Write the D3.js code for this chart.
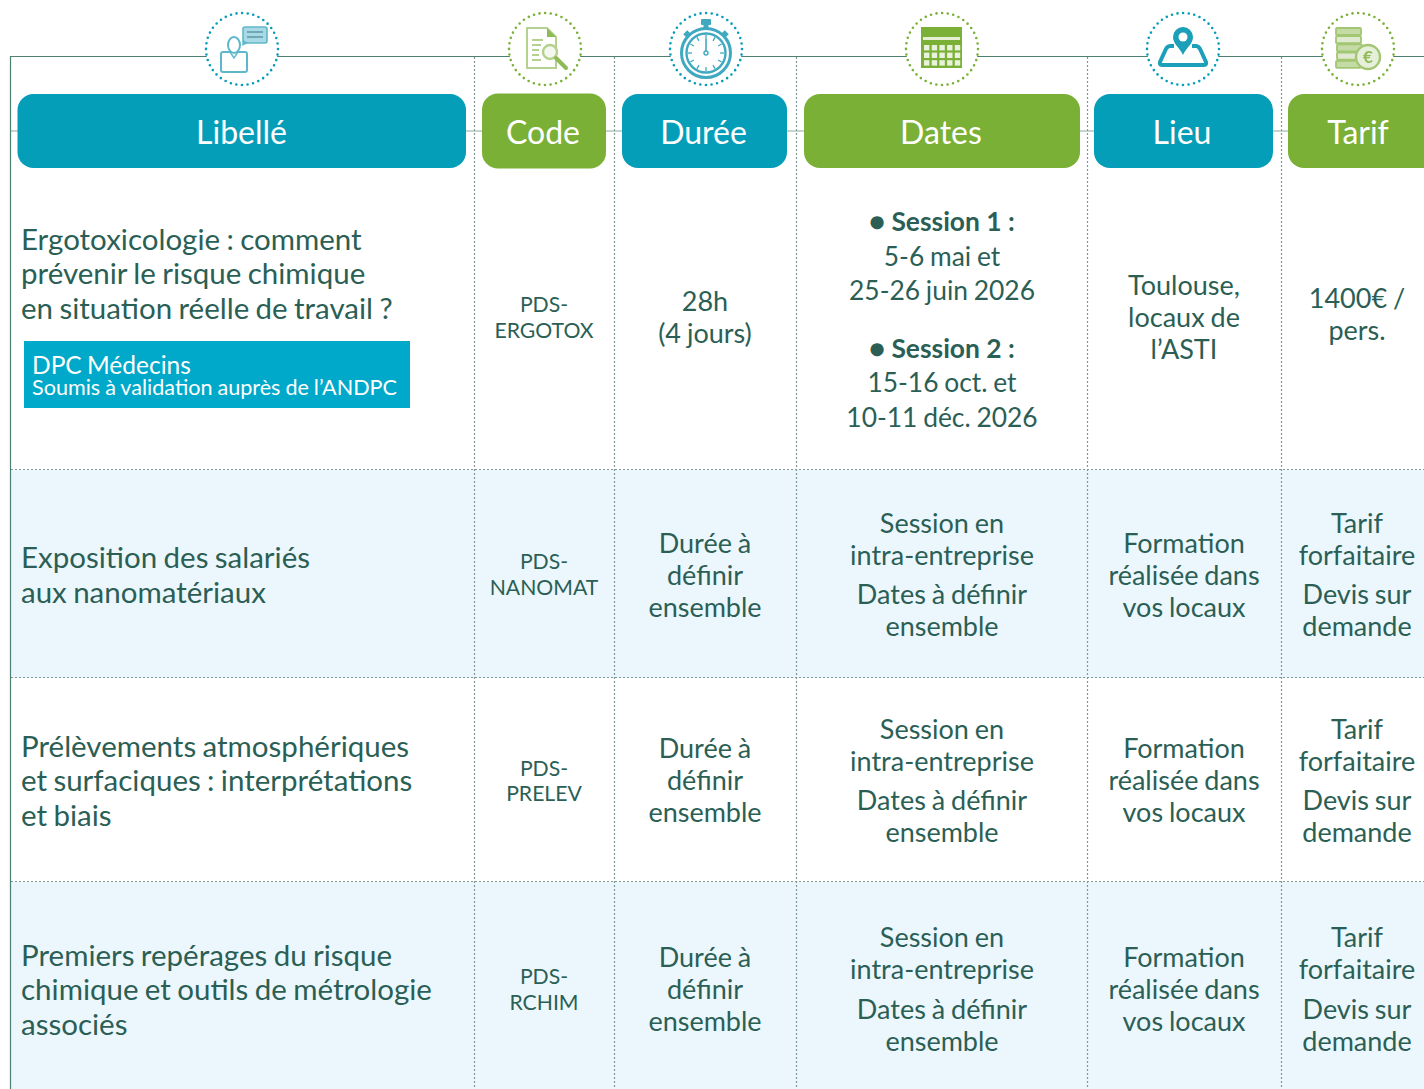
<!DOCTYPE html>
<html lang="fr">
<head>
<meta charset="utf-8">
<title>Formations</title>
<script src="https://cdn.jsdelivr.net/npm/d3@7"></script>
<style>
  html, body { margin: 0; padding: 0; background: #fff; overflow: hidden; }
  svg { display: block; font-family: Lato, sans-serif; font-kerning: normal; }
</style>
</head>
<body>
<div id="chart"></div>
<script>
// table content
const columns = ['Libellé', 'Code', 'Durée', 'Dates', 'Lieu', 'Tarif']
const rowIds = ['ergotox', 'nanomat', 'prelev', 'rchim']

const libelles = [
  ['Ergotoxicologie : comment', 'prévenir le risque chimique', 'en situation réelle de travail ?'],
  ['Exposition des salariés', 'aux nanomatériaux'],
  ['Prélèvements atmosphériques', 'et surfaciques : interprétations', 'et biais'],
  ['Premiers repérages du risque', 'chimique et outils de métrologie', 'associés'],
]
const codes = [
  ['PDS-', 'ERGOTOX'],
  ['PDS-', 'NANOMAT'],
  ['PDS-', 'PRELEV'],
  ['PDS-', 'RCHIM'],
]
const durees = [
  ['28h', '(4 jours)'],
  ['Durée à', 'définir', 'ensemble'],
  ['Durée à', 'définir', 'ensemble'],
  ['Durée à', 'définir', 'ensemble'],
]
const dates = [
  ['*● Session 1 :', '5-6 mai et', '25-26 juin 2026', '', '*● Session 2 :', '15-16 oct. et', '10-11 déc. 2026'],
  ['Session en', 'intra-entreprise', '', 'Dates à définir', 'ensemble'],
  ['Session en', 'intra-entreprise', '', 'Dates à définir', 'ensemble'],
  ['Session en', 'intra-entreprise', '', 'Dates à définir', 'ensemble'],
]
const lieux = [
  ['Toulouse,', 'locaux de', 'l’ASTI'],
  ['Formation', 'réalisée dans', 'vos locaux'],
  ['Formation', 'réalisée dans', 'vos locaux'],
  ['Formation', 'réalisée dans', 'vos locaux'],
]
const tarifs = [
  ['1400€ /', 'pers.'],
  ['Tarif', 'forfaitaire', '', 'Devis sur', 'demande'],
  ['Tarif', 'forfaitaire', '', 'Devis sur', 'demande'],
  ['Tarif', 'forfaitaire', '', 'Devis sur', 'demande'],
]
const badgeLines = ['DPC Médecins', 'Soumis à validation auprès de l’ANDPC']

const width = 1424
const height = 1089
const teal = '#059eb9'
const green = '#7ab035'
const ink = '#2b5f55'

const svg = d3.select('#chart').append('svg').attr('width', width).attr('height', height)

svg.append('defs').append('filter')
  .attr('id', 'soft')
  .attr('x', '-20%').attr('y', '-20%').attr('width', '140%').attr('height', '140%')
  .append('feGaussianBlur')
  .attr('stdDeviation', 0.5)

// layout
const colEdges = [10.5, 474.5, 614.5, 796.5, 1087.5, 1281.5, 1424]
const rowEdges = [57, 470, 678, 882, 1089]
const rowTop = d3.scaleOrdinal().domain(rowIds).range(rowEdges)
const rowBottom = d3.scaleOrdinal().domain(rowIds).range(rowEdges.slice(1))

const headers = d3.scaleOrdinal().domain(columns).range([
  { x0: 17.5, x1: 466, y0: 94, y1: 168, tx: 241.5, icon: 242 },
  { x0: 482, x1: 606, y0: 93.5, y1: 168.5, tx: 543, icon: 545 },
  { x0: 622, x1: 787, y0: 94, y1: 168, tx: 703.5, icon: 706 },
  { x0: 804, x1: 1080, y0: 94, y1: 168, tx: 941, icon: 942 },
  { x0: 1094, x1: 1273, y0: 94, y1: 168, tx: 1182, icon: 1183 },
  { x0: 1288, x1: 1440, y0: 94, y1: 168, tx: 1358, icon: 1358 },
])

// row backgrounds
svg.selectAll('.row-bg')
  .data(rowIds.filter((d, i) => i % 2 === 1))
  .enter()
  .append('rect')
  .attr('class', 'row-bg')
  .attr('x', 11)
  .attr('y', d => rowTop(d))
  .attr('width', width - 11)
  .attr('height', d => rowBottom(d) - rowTop(d))
  .attr('fill', '#ecf7fd')

// dotted grid
const grid = svg.append('g').attr('stroke', '#7f9a94').attr('stroke-width', 1.2).attr('stroke-dasharray', '2 2')
grid.selectAll('.vline')
  .data(colEdges.slice(1, -1))
  .enter()
  .append('line')
  .attr('x1', d => d).attr('x2', d => d)
  .attr('y1', rowEdges[0]).attr('y2', height)
grid.selectAll('.hline')
  .data(rowEdges.slice(1, -1))
  .enter()
  .append('line')
  .attr('x1', 11).attr('x2', width)
  .attr('y1', d => d - 0.5).attr('y2', d => d - 0.5)

// frame
svg.append('path')
  .attr('d', `M${colEdges[0]},${height}V56.5H${width}`)
  .attr('fill', 'none').attr('stroke', '#4e7f73').attr('stroke-width', 1.2)
svg.append('line')
  .attr('x1', 11).attr('x2', width).attr('y1', 131).attr('y2', 131)
  .attr('stroke', '#8ba9a3').attr('stroke-width', 1.2)

// header pills
const head = svg.selectAll('.head')
  .data(columns)
  .enter()
  .append('g')
  .attr('class', 'head')
head.append('rect')
  .attr('x', d => headers(d).x0)
  .attr('y', d => headers(d).y0)
  .attr('width', d => headers(d).x1 - headers(d).x0)
  .attr('height', d => headers(d).y1 - headers(d).y0)
  .attr('rx', 16)
  .attr('fill', (d, i) => (i % 2 ? green : teal))
head.append('text')
  .attr('x', d => headers(d).tx)
  .attr('y', 144)
  .attr('text-anchor', 'middle')
  .attr('fill', '#fff')
  .style('font-size', '32px')
  .text(d => d)

// icon rings
const icons = svg.selectAll('.icon')
  .data(columns)
  .enter()
  .append('g')
  .attr('class', 'icon')
  .attr('transform', d => `translate(${headers(d).icon},49)`)
icons.append('circle')
  .attr('r', 36)
  .attr('fill', '#fff')
  .attr('stroke', (d, i) => (i % 2 ? green : teal))
  .attr('stroke-width', 2.6)
  .attr('stroke-linecap', 'round')
  .attr('stroke-dasharray', '0 5.65')

// hand drawn icon glyphs, in coordinates around the ring centre
const iconDraw = [
  g => { // person with speech bubble
    const c = '#5fb8ca'
    g.append('rect').attr('x', -21).attr('y', 3).attr('width', 26).attr('height', 20).attr('rx', 2).attr('fill', '#fff').attr('stroke', c).attr('stroke-width', 2)
    g.append('ellipse').attr('cx', -8).attr('cy', -4).attr('rx', 6).attr('ry', 8).attr('fill', '#fff').attr('stroke', c).attr('stroke-width', 2)
    g.append('path').attr('d', 'M-12,3L-8,9L-4,3').attr('fill', 'none').attr('stroke', c).attr('stroke-width', 1.4)
    g.append('rect').attr('x', 1).attr('y', -22).attr('width', 24).attr('height', 16).attr('rx', 2).attr('fill', '#a9d9e4').attr('stroke', c).attr('stroke-width', 1.6)
    g.append('path').attr('d', 'M5,-17H21M5,-12H21').attr('stroke', '#5d97a5').attr('stroke-width', 1.6)
    g.append('path').attr('d', 'M1,-9L0,-3L6,-6').attr('fill', c)
  },
  g => { // document with loupe
    const c = '#8fbb57'
    g.append('path').attr('d', 'M-18,-21H2L11,-12V19H-18Z').attr('fill', '#fff').attr('stroke', '#b5d18f').attr('stroke-width', 2)
    g.append('path').attr('d', 'M2,-21L11,-12H2Z').attr('fill', c)
    g.append('path').attr('d', 'M-13,-9H-2M-13,-4H-4M-13,1H-6M-13,6H-6M-13,11H-4').attr('stroke', '#b5d18f').attr('stroke-width', 2)
    g.append('circle').attr('cx', 5).attr('cy', 3).attr('r', 7).attr('fill', '#f4f8ee').attr('stroke', '#b5d18f').attr('stroke-width', 2.4)
    g.append('path').attr('d', 'M11,9L21,19').attr('stroke', c).attr('stroke-width', 4).attr('stroke-linecap', 'round')
  },
  g => { // stopwatch
    const c = '#3fa9c0'
    g.append('rect').attr('x', -5).attr('y', -30).attr('width', 10).attr('height', 6).attr('rx', 1).attr('fill', c)
    g.append('rect').attr('x', -2.5).attr('y', -25).attr('width', 5).attr('height', 6).attr('fill', c)
    g.append('path').attr('d', 'M-17,-17L-21,-13M17,-17L21,-13').attr('stroke', c).attr('stroke-width', 5)
    const dial = g.append('g').attr('transform', 'translate(0,4)')
    dial.append('circle').attr('r', 24.5).attr('fill', '#fff').attr('stroke', c).attr('stroke-width', 3)
    dial.append('circle').attr('r', 19.5).attr('fill', '#fff').attr('stroke', c).attr('stroke-width', 2.4)
    dial.append('g').selectAll('line').data(d3.range(12)).enter().append('line')
      .attr('y1', -14).attr('y2', -18).attr('stroke', c).attr('stroke-width', 1.3)
      .attr('transform', d => `rotate(${d * 30})`)
    dial.append('path').attr('d', 'M0,-14V-2').attr('stroke', c).attr('stroke-width', 1.6)
    dial.append('circle').attr('r', 2).attr('fill', '#fff').attr('stroke', c).attr('stroke-width', 1.4)
  },
  g => { // calendar
    g.append('rect').attr('x', -21).attr('y', -22).attr('width', 41).attr('height', 41).attr('fill', green)
    g.append('rect').attr('x', -19).attr('y', -12).attr('width', 37).attr('height', 3).attr('fill', '#e4efd4')
    g.append('g').selectAll('rect').data(d3.range(15)).enter().append('rect')
      .attr('x', d => -18 + (d % 5) * 7.7)
      .attr('y', d => -4 + Math.floor(d / 5) * 7.6)
      .attr('width', 5.4).attr('height', 5.4).attr('fill', '#e9f2dc')
  },
  g => { // map pin
    const c = '#1a9fb9'
    g.append('path')
      .attr('d', 'M-9,-3H-13Q-16,-3 -18,2L-23,13Q-24,16 -21,16H21Q24,16 23,13L18,2Q16,-3 13,-3H9')
      .attr('fill', 'none').attr('stroke', c).attr('stroke-width', 4).attr('stroke-linejoin', 'round')
    g.append('path').attr('d', 'M0,6C-3,-1 -10,-5 -10,-12A10,10 0 1 1 10,-12C10,-5 3,-1 0,6Z').attr('fill', c)
    g.append('circle').attr('cy', -12).attr('r', 4.5).attr('fill', '#fff')
  },
  g => { // coins
    const c = '#a2c672'
    g.append('g').selectAll('rect').data(d3.range(5)).enter().append('rect')
      .attr('x', d => (d === 2 || d === 3 ? -21 : -22))
      .attr('y', d => -21 + d * 8.2)
      .attr('width', 25).attr('height', 7).attr('rx', 1)
      .attr('fill', d => (d % 2 ? '#dfe9d0' : '#c5dba6')).attr('stroke', c).attr('stroke-width', 1.8)
    g.append('circle').attr('cx', 10).attr('cy', 8).attr('r', 12).attr('fill', '#e6efd9').attr('stroke', c).attr('stroke-width', 2.4)
    g.append('text').attr('x', 10).attr('y', 14).attr('text-anchor', 'middle').attr('fill', '#8fbb57').style('font-size', '17px').style('font-weight', 700).text('€')
  },
]
icons.each(function (d, i) {
  iconDraw[i](d3.select(this).append('g').attr('filter', 'url(#soft)'))
})

// cell text, lines are centred on a row's middle. '' marks a paragraph gap, * a bold line
function drawCell(lines, opts) {
  const gap = opts.gap
  const lh = opts.lh
  let total = 0
  const placed = []
  lines.forEach(line => {
    if (line === '') {
      total += gap
    } else {
      placed.push({ line, y: total })
      total += lh
    }
  })
  const first = opts.cy - (total - lh) / 2
  svg.append('g')
    .selectAll('text')
    .data(placed)
    .enter()
    .append('text')
    .attr('x', opts.x)
    .attr('y', d => first + d.y)
    .attr('text-anchor', opts.anchor || 'middle')
    .attr('fill', ink)
    .style('font-size', `${opts.size}px`)
    .style('word-spacing', d => `${d.line[0] === '*' ? 0 : opts.ws || 0}px`)
    .style('font-weight', d => (d.line[0] === '*' ? 700 : 400))
    .text(d => d.line.replace('*', ''))
}

// baseline of the middle of each cell, per row
const libelleCy = [284, 585.5, 791, 1000]
const codeCy = [325, 582, 788.5, 997]
const dureeCy = [327, 585, 790, 999]
const datesCy = [329, 584.5, 790.5, 999]
const lieuCy = [327, 585, 790, 999]
const tarifCy = [323.5, 584.5, 790.5, 999]

rowIds.forEach((id, i) => {
  const gapRest = i === 3 ? 7.5 : 7
  drawCell(libelles[i], { x: 21, anchor: 'start', cy: libelleCy[i], lh: 34.5, gap: 0, size: 29.5, ws: -1.2 })
  drawCell(codes[i], { x: 544, cy: codeCy[i], lh: 25.5, gap: 0, size: 21.2 })
  drawCell(durees[i], { x: 705, cy: dureeCy[i], lh: 32, gap: 0, size: 27, ws: -1 })
  drawCell(dates[i], { x: 942, cy: datesCy[i], lh: i === 0 ? 34.5 : 32, gap: i === 0 ? 23 : gapRest, size: i === 0 ? 26.4 : 27, ws: -1 })
  drawCell(lieux[i], { x: 1184, cy: lieuCy[i], lh: 32, gap: 0, size: 27, ws: -1 })
  drawCell(tarifs[i], { x: 1357, cy: tarifCy[i], lh: 32, gap: gapRest, size: 27, ws: -1 })
})

// DPC badge
const badge = svg.append('g')
badge.append('rect').attr('x', 24).attr('y', 341).attr('width', 386).attr('height', 67).attr('fill', '#00a9c9')
badge.append('text').attr('x', 32).attr('y', 374).attr('fill', '#fff').style('font-size', '24.5px').style('word-spacing', '-1px').text(badgeLines[0])
badge.append('text').attr('x', 32).attr('y', 395).attr('fill', '#fff').style('font-size', '21.6px').style('word-spacing', '-0.6px').text(badgeLines[1])
</script>
</body>
</html>
